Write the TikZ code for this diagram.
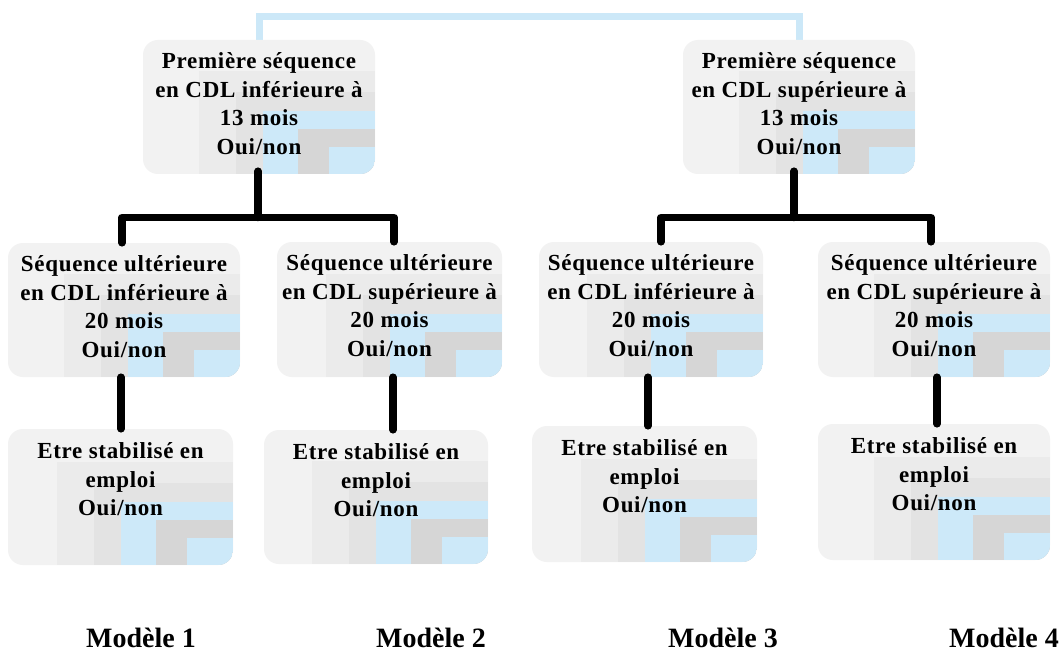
\documentclass[tikz,border=0pt]{standalone}
\usepackage{fontspec}
\setmainfont{Liberation Serif}
\newfontfamily\boxfont[LetterSpace=3]{Liberation Serif}
\usetikzlibrary{calc,backgrounds}
\definecolor{boxbase}{HTML}{F2F2F2}
\definecolor{laytwo}{HTML}{EBEBEB}
\definecolor{laythree}{HTML}{E3E3E3}
\definecolor{layblue}{HTML}{CDE9F9}
\definecolor{layfive}{HTML}{D6D6D6}
\definecolor{topblue}{HTML}{CCE8F8}
\tikzset{
  cbox/.style={rectangle, rounded corners=15pt, fill=boxbase, draw=none, inner sep=0pt,
    path picture={
      \fill[laytwo, sharp corners] ([shift={(-176,-103)}]path picture bounding box.south east) rectangle (path picture bounding box.south east);
      \fill[laythree, sharp corners] ([shift={(-139,-82)}]path picture bounding box.south east) rectangle (path picture bounding box.south east);
      \fill[layblue, sharp corners] ([shift={(-112,-63)}]path picture bounding box.south east) rectangle (path picture bounding box.south east);
      \fill[layfive, sharp corners] ([shift={(-77,-45)}]path picture bounding box.south east) rectangle (path picture bounding box.south east);
      \fill[layblue, sharp corners] ([shift={(-46,-27)}]path picture bounding box.south east) rectangle (path picture bounding box.south east);
    }},
  lbl/.style={anchor=north, align=center, inner sep=0pt,
    font=\boxfont\bfseries\fontsize{23}{28.5}\selectfont},
  mlbl/.style={anchor=base, inner sep=0pt, font=\bfseries\fontsize{28}{30}\selectfont},
  blk/.style={line width=7.5pt, line cap=round, line join=round, black},
  bluebar/.style={line width=7pt, topblue, line join=miter},
}
\begin{document}
\begin{tikzpicture}[x=1pt, y=-1pt]
\useasboundingbox (0,0) rectangle (1062,655);
% boxes
\node[cbox, minimum width=232pt, minimum height=134pt] (T1) at (259,107) {};
\node[cbox, minimum width=232pt, minimum height=134pt] (T2) at (799,107) {};
\node[cbox, minimum width=232pt, minimum height=134pt] (M1) at (124,310) {};
\node[cbox, minimum width=225pt, minimum height=135pt] (M2) at (389.5,309.5) {};
\node[cbox, minimum width=224pt, minimum height=135pt] (M3) at (651,309.5) {};
\node[cbox, minimum width=232pt, minimum height=135pt] (M4) at (934,309.5) {};
\node[cbox, minimum width=225pt, minimum height=136pt] (B1) at (120.5,497) {};
\node[cbox, minimum width=224pt, minimum height=134pt] (B2) at (376,497) {};
\node[cbox, minimum width=225pt, minimum height=136pt] (B3) at (644.5,494) {};
\node[cbox, minimum width=232pt, minimum height=136pt] (B4) at (934,492) {};
% texts
\node[lbl] (T1t) at ([yshift=-13pt]T1.north) {Première séquence\\en CDL inférieure à\\13 mois\\Oui/non};
\node[lbl] (T2t) at ([yshift=-13pt]T2.north) {Première séquence\\en CDL supérieure à\\13 mois\\Oui/non};
\node[lbl] (M1t) at ([yshift=-13pt]M1.north) {Séquence ultérieure\\en CDL inférieure à\\20 mois\\Oui/non};
\node[lbl] (M2t) at ([yshift=-13pt]M2.north) {Séquence ultérieure\\en CDL supérieure à\\20 mois\\Oui/non};
\node[lbl] (M3t) at ([yshift=-13pt]M3.north) {Séquence ultérieure\\en CDL inférieure à\\20 mois\\Oui/non};
\node[lbl] (M4t) at ([yshift=-13pt]M4.north) {Séquence ultérieure\\en CDL supérieure à\\20 mois\\Oui/non};
\node[lbl] (B1t) at ([yshift=-14pt]B1.north) {Etre stabilisé en\\emploi\\Oui/non};
\node[lbl] (B2t) at ([yshift=-14pt]B2.north) {Etre stabilisé en\\emploi\\Oui/non};
\node[lbl] (B3t) at ([yshift=-14pt]B3.north) {Etre stabilisé en\\emploi\\Oui/non};
\node[lbl] (B4t) at ([yshift=-14pt]B4.north) {Etre stabilisé en\\emploi\\Oui/non};
% model labels
\node[mlbl] (L1) at (141,647) {Modèle 1};
\node[mlbl] (L2) at (431,647) {Modèle 2};
\node[mlbl] (L3) at (723,647) {Modèle 3};
\node[mlbl] (L4) at (1004,647) {Modèle 4};
% background and blue top connector
\begin{pgfonlayer}{background}
\fill[white] (0,0) rectangle (1062,655);
\coordinate (topbar) at (528,16.5);
\draw[bluebar] (T1.north) |- (topbar) -| (T2.north);
\end{pgfonlayer}
% black tree connectors
\coordinate (j1l) at (122,217.5);
\coordinate (j1r) at (394,217.5);
\coordinate (j2l) at (661,217.5);
\coordinate (j2r) at (931,217.5);
\coordinate (j1c) at (258,217.5);
\coordinate (j2c) at (794,217.5);
\draw[blk] (j1c |- T1.south) ++(0,-3) -- (j1c);
\draw[blk] (j1l |- M1.north) -- (j1l) -- (j1r) -- (j1r |- M2.north);
\draw[blk] (j2c |- T2.south) ++(0,-3) -- (j2c);
\draw[blk] (j2l |- M3.north) -- (j2l) -- (j2r) -- (j2r |- M4.north);
\coordinate (v1) at (121,400);
\coordinate (v2) at (393,400);
\coordinate (v3) at (648,400);
\coordinate (v4) at (937,400);
\draw[blk] (v1 |- M1.south) -- (v1 |- B1.north);
\draw[blk] (v2 |- M2.south) -- (v2 |- B2.north);
\draw[blk] (v3 |- M3.south) -- (v3 |- B3.north);
\draw[blk] (v4 |- M4.south) -- (v4 |- B4.north);
\end{tikzpicture}
\end{document}
